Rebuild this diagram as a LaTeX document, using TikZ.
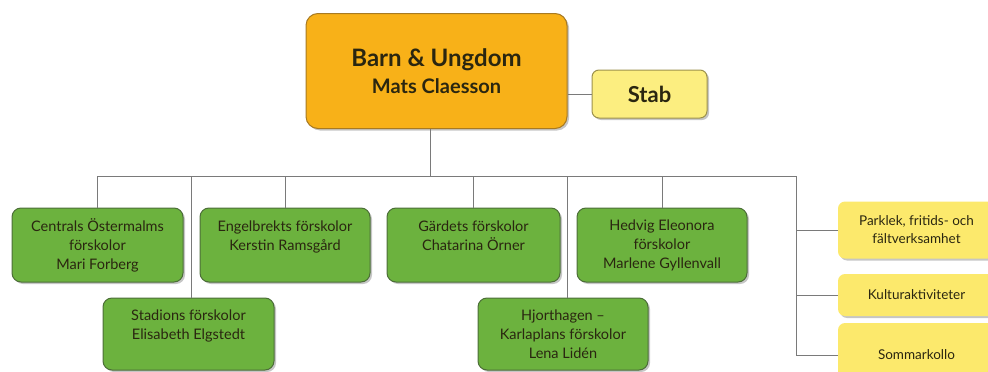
\documentclass[tikz,border=0pt]{standalone}
\usepackage{fontspec}
\setmainfont{Lato}
\usepackage{xcolor}
\usepackage{tikz}
\usetikzlibrary{positioning,shadows}

\definecolor{bossfill}{HTML}{F8B118}
\definecolor{bossline}{HTML}{A87A22}
\definecolor{stabfill}{HTML}{FCEE80}
\definecolor{stabline}{HTML}{9C914C}
\definecolor{skolafill}{HTML}{6CB23E}
\definecolor{skolaline}{HTML}{4C6E38}
\definecolor{ovrigfill}{HTML}{FCE96C}
\definecolor{linkgray}{HTML}{7A7A7A}
\definecolor{textdark}{HTML}{2A2610}

\tikzset{
  shade/.style={drop shadow={opacity=0.45,shadow xshift=2pt,shadow yshift=-2pt}},
  boss/.style={draw=bossline, line width=1pt, fill=bossfill, rounded corners=12pt,
    minimum width=261pt, minimum height=115pt, align=center, text=textdark, shade,
    font=\fontsize{24}{27}\selectfont\bfseries},
  stabbox/.style={draw=stabline, line width=1pt, fill=stabfill, rounded corners=7pt,
    minimum width=115pt, minimum height=48pt, text=textdark, shade,
    font=\fontsize{22}{26}\selectfont\bfseries},
  skola/.style={draw=skolaline, line width=1pt, fill=skolafill, rounded corners=9pt,
    minimum height=74pt, align=center, text=textdark, shade,
    font=\fontsize{14.5}{19}\selectfont},
  ovrig/.style={fill=ovrigfill, rounded corners=7pt, minimum width=157pt,
    align=center, text=textdark, shade, font=\fontsize{13.5}{18}\selectfont},
  link/.style={draw=linkgray, line width=0.9pt}
}

\begin{document}
\begin{tikzpicture}[x=1pt,y=-1pt]
\useasboundingbox (0,0) rectangle (988,372);

% top level
\node[boss] (top) at (436.5,71) {Barn \& Ungdom\\{\fontsize{20}{27}\selectfont Mats Claesson}};
\node[stabbox] (stab) at (649.5,94) {Stab};

% skolor
\node[skola, minimum width=171pt] (cen) at (97.5,245) {Centrals Östermalms\\förskolor\\Mari Forberg};
\node[skola, minimum width=170pt] (eng) at (285,245) {Engelbrekts förskolor\\Kerstin Ramsgård\\~};
\node[skola, minimum width=173pt] (gar) at (473.5,245) {Gärdets förskolor\\Chatarina Örner\\~};
\node[skola, minimum width=170pt] (hed) at (662,245) {Hedvig Eleonora\\förskolor\\Marlene Gyllenvall};
\node[skola, minimum width=171pt, minimum height=72pt] (sta) at (188.5,334) {Stadions förskolor\\Elisabeth Elgstedt\\~};
\node[skola, minimum width=170pt, minimum height=72pt] (hjo) at (563,334) {Hjorthagen –\\Karlaplans förskolor\\Lena Lidén};

% ovrigt
\node[ovrig, minimum height=57pt] (par) at (916.5,230) {Parklek, fritids- och\\fältverksamhet};
\node[ovrig, minimum height=42pt] (kul) at (916.5,295) {Kulturaktiviteter};
\node[ovrig, minimum height=64pt] (som) at (916.5,355) {Sommarkollo};

% connectors
\coordinate (bus) at (430,176);
\coordinate (rbus) at (796,176);
\draw[link] (top.east |- stab.west) -- (stab.west);
\draw[link] (bus |- top.south) -- (bus);
\draw[link] (bus) -| (cen.north);
\draw[link] (bus) -| (eng.north);
\draw[link] (bus) -| (gar.north);
\draw[link] (bus) -| (hed.north);
\draw[link] (bus) -| ([xshift=3pt]sta.north);
\draw[link] (bus) -| ([xshift=4pt]hjo.north);
\draw[link] (bus) -- (rbus) |- (som.west);
\draw[link] (rbus |- par.west) -- (par.west);
\draw[link] (rbus |- kul.west) -- (kul.west);
\end{tikzpicture}
\end{document}
